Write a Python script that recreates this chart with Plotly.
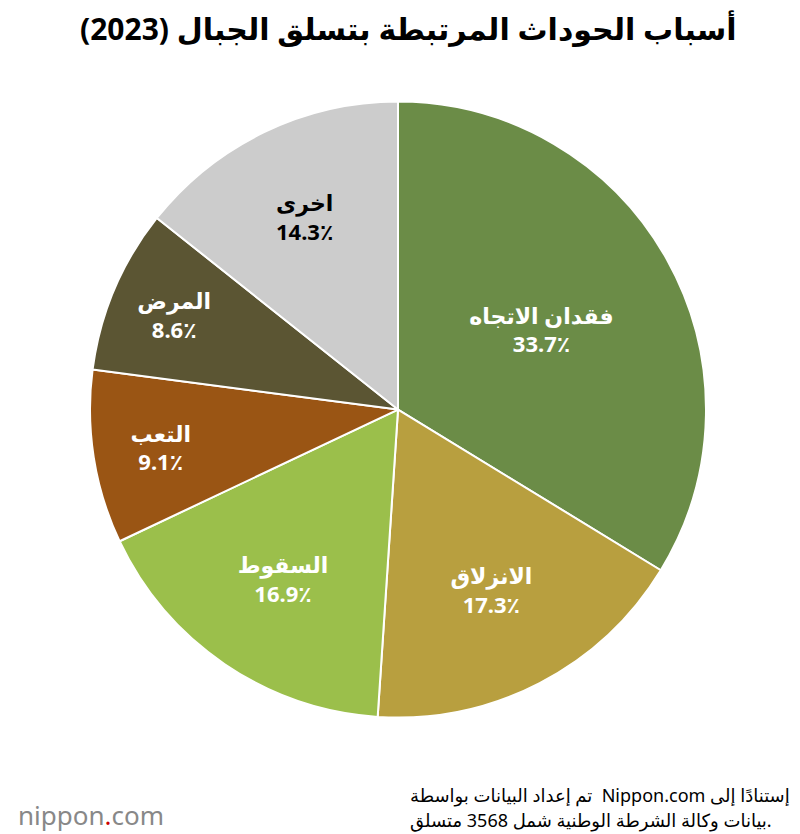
import plotly.graph_objects as go

labels = ["فقدان الاتجاه", "الانزلاق", "السقوط", "التعب", "المرض", "اخرى"]
values = [33.7, 17.3, 16.9, 9.1, 8.6, 14.3]
colors = ["#6b8c47", "#b89f3f", "#9bbf4b", "#9a5514", "#5b5533", "#cccccc"]
text_colors = ["white", "white", "white", "white", "white", "black"]

texts = [f"<b>{l}</b><br><b>{v}٪</b>" for l, v in zip(labels, values)]

fig = go.Figure(go.Pie(
    labels=labels, values=values, text=texts, textinfo="text",
    sort=False, direction="clockwise", rotation=0,
    marker=dict(colors=colors, line=dict(color="white", width=2)),
    textposition="inside", insidetextorientation="horizontal",
    textfont=dict(size=22, color=text_colors, family="Noto Sans, DejaVu Sans"),
    domain=dict(x=[0.1025, 0.8725], y=[0.149, 0.888]),
    hoverinfo="skip", showlegend=False,
))

footer1 = "تم إعداد البيانات بواسطة  Nippon.com إستنادًا إلى"
footer2 = "بيانات وكالة الشرطة الوطنية شمل 3568 متسلق."
fig.update_layout(
    width=800, height=834, margin=dict(l=0, r=0, t=0, b=0),
    paper_bgcolor="white", plot_bgcolor="white",
    annotations=[
        dict(text="<b>أسباب الحوداث المرتبطة بتسلق الجبال (2023)</b>", x=0.5, y=0.975,
             xref="paper", yref="paper", showarrow=False, xanchor="center", yanchor="middle",
             font=dict(size=30, color="black", family="Noto Sans, DejaVu Sans")),
        dict(text=footer1, x=0.5, y=0.04, xref="paper", yref="paper", showarrow=False,
             xanchor="left", yanchor="bottom",
             font=dict(size=18, color="black", family="Noto Sans, DejaVu Sans")),
        dict(text=footer2, x=0.5, y=0.01, xref="paper", yref="paper", showarrow=False,
             xanchor="left", yanchor="bottom",
             font=dict(size=18, color="black", family="Noto Sans, DejaVu Sans")),
        dict(text="nippon<span style='color:#c00'>.</span>com", x=0.01, y=0.008,
             xref="paper", yref="paper", showarrow=False, xanchor="left", yanchor="bottom",
             font=dict(size=26, color="#888888", family="Noto Sans, DejaVu Sans")),
    ],
)

fig.write_html("out.html")
